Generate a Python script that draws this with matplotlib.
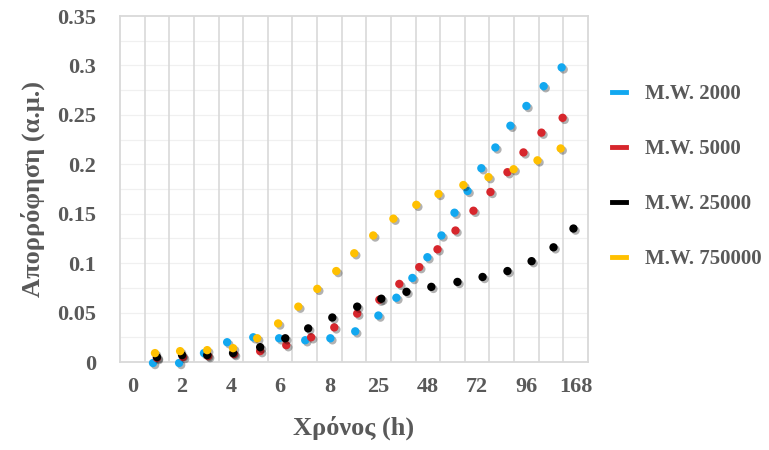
import numpy as np
import matplotlib
matplotlib.use("Agg")
import matplotlib.pyplot as plt
import matplotlib.patheffects as pe
from matplotlib.lines import Line2D

# categories on the x axis (one label every other column)
x_labels = ["0", "2", "4", "6", "8", "25", "48", "72", "96", "168"]
y_ticks = [0, 0.05, 0.1, 0.15, 0.2, 0.25, 0.3, 0.35]
y_labels = ["0", "0.05", "0.1", "0.15", "0.2", "0.25", "0.3", "0.35"]

# positions in column units (0..19) and absorbance values
x_2000 = [1.34, 2.40, 3.41, 4.35, 5.41, 6.46, 7.52, 8.54, 9.55, 10.49, 11.22,
          11.87, 12.48, 13.05, 13.58, 14.11, 14.67, 15.24, 15.85, 16.50, 17.20, 17.93]
y_2000 = [-0.001, -0.001, 0.009, 0.020, 0.025, 0.024, 0.022, 0.024, 0.031, 0.047, 0.065,
          0.085, 0.106, 0.128, 0.151, 0.173, 0.196, 0.217, 0.239, 0.259, 0.279, 0.298]

x_5000 = [1.50, 2.56, 3.58, 4.63, 5.69, 6.75, 7.76, 8.70, 9.63, 10.53,
          11.34, 12.15, 12.89, 13.62, 14.35, 15.04, 15.73, 16.38, 17.11, 17.97]
y_5000 = [0.004, 0.005, 0.006, 0.008, 0.011, 0.017, 0.025, 0.035, 0.049, 0.063,
          0.079, 0.096, 0.114, 0.133, 0.153, 0.172, 0.192, 0.212, 0.232, 0.247]

x_25000 = [1.50, 2.52, 3.54, 4.59, 5.69, 6.71, 7.64, 8.62, 9.63,
           10.61, 11.63, 12.64, 13.70, 14.72, 15.73, 16.71, 17.60, 18.41]
y_25000 = [0.005, 0.007, 0.007, 0.009, 0.015, 0.024, 0.034, 0.045, 0.056,
           0.064, 0.071, 0.076, 0.081, 0.086, 0.092, 0.102, 0.116, 0.135]

x_750000 = [1.42, 2.44, 3.54, 4.59, 5.57, 6.42, 7.24, 8.01, 8.78, 9.51,
            10.28, 11.10, 12.03, 12.93, 13.94, 14.96, 15.98, 16.95, 17.89]
y_750000 = [0.009, 0.011, 0.012, 0.014, 0.024, 0.039, 0.056, 0.074, 0.092, 0.110,
            0.128, 0.145, 0.159, 0.170, 0.179, 0.187, 0.195, 0.204, 0.216]

series = [
    ("M.W. 2000", x_2000, y_2000, "#12A8F0"),
    ("M.W. 5000", x_5000, y_5000, "#D7262C"),
    ("M.W. 25000", x_25000, y_25000, "#000000"),
    ("M.W. 750000", x_750000, y_750000, "#FFC000"),
]

plt.rcParams["font.family"] = ["Liberation Serif", "DejaVu Serif"]
plt.rcParams["font.weight"] = "bold"
grey = "#595959"

fig = plt.figure(figsize=(7.69, 4.5), dpi=100)
ax = fig.add_axes([120 / 769, 1 - 362 / 450, 468 / 769, 346 / 450])

n_cols = 19
ax.set_xlim(0, n_cols)
ax.set_ylim(0, 0.35)

# grid
for k in range(1, n_cols):
    ax.axvline(k, color="#d9d9d9", lw=1.2, zorder=1)
for v in np.arange(0.025, 0.35, 0.025):
    ax.axhline(v, color="#f0f0f0", lw=0.9, zorder=0)

shadow = [pe.SimplePatchShadow(offset=(1.5, -1.5), shadow_rgbFace="k", alpha=0.3), pe.Normal()]
for name, xs, ys, col in series:
    ax.scatter(xs, ys, s=36, color=col, zorder=3, clip_on=False,
               linewidths=0, path_effects=shadow)

for sp in ax.spines.values():
    sp.set_color("#d9d9d9")
    sp.set_linewidth(1.3)

ax.set_xticks(np.arange(0.5, n_cols, 2))
ax.set_xticklabels(x_labels)
ax.set_yticks(y_ticks)
ax.set_yticklabels(y_labels)
ax.tick_params(length=0, labelsize=16, colors=grey)
ax.tick_params(axis="y", pad=17)
ax.tick_params(axis="x", pad=11)

ax.set_xlabel("Χρόνος (h)", fontsize=19, color=grey, fontweight="bold", labelpad=13)
ax.set_ylabel("Απορρόφηση (α.μ.)", fontsize=19, color=grey, fontweight="bold", labelpad=9)

handles = [Line2D([0], [0], color=c, lw=3.5) for _, _, _, c in series]
labels = [s[0] for s in series]
leg = fig.legend(handles, labels, loc="center left", bbox_to_anchor=(0.796, 0.608),
                 frameon=False, fontsize=15, handlelength=0.65, handletextpad=0.95,
                 labelspacing=1.68, borderaxespad=0, borderpad=0)
for t in leg.get_texts():
    t.set_color(grey)

fig.savefig("out.png", dpi=100)
